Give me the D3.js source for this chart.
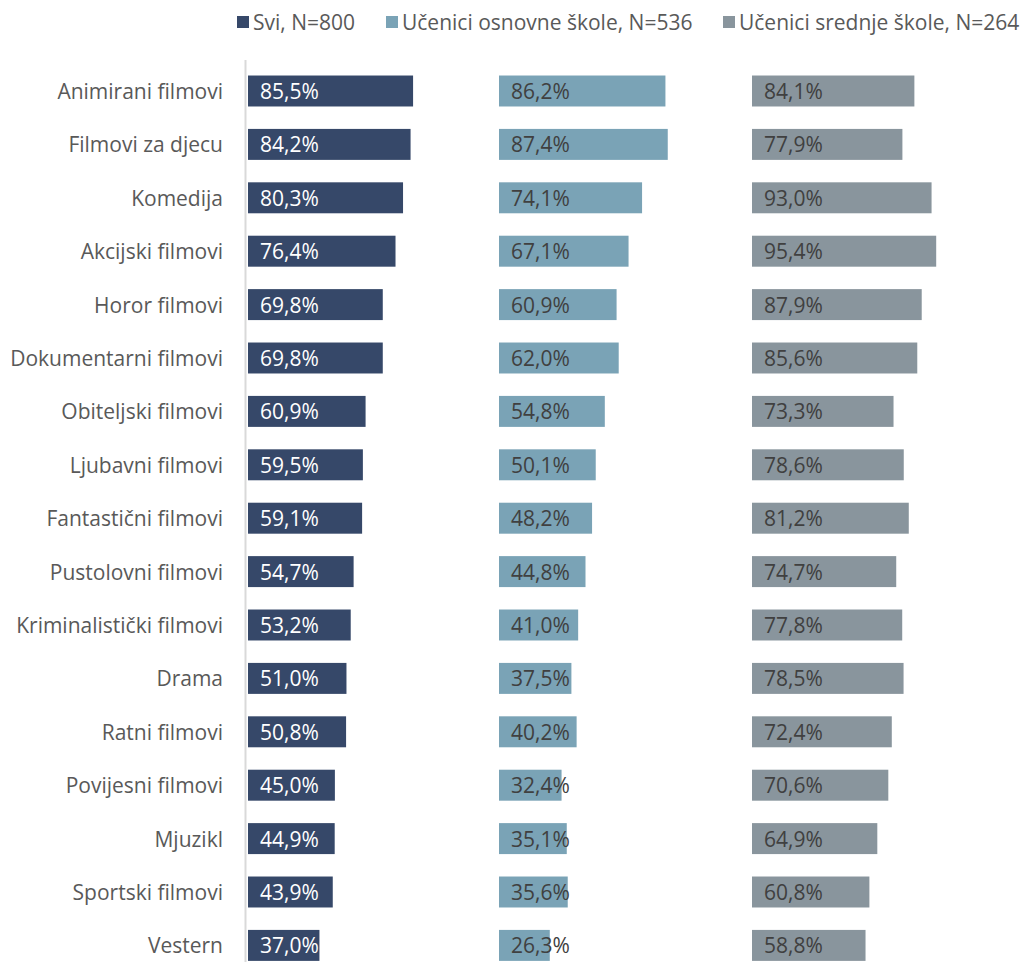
<!DOCTYPE html>
<html><head><meta charset="utf-8">
<script src="https://cdn.jsdelivr.net/npm/d3@7"></script>
<style>body{margin:0;background:#fff;} svg{display:block;}</style>
</head><body>
<script>
const categories = ["Animirani filmovi","Filmovi za djecu","Komedija","Akcijski filmovi","Horor filmovi","Dokumentarni filmovi","Obiteljski filmovi","Ljubavni filmovi","Fantastični filmovi","Pustolovni filmovi","Kriminalistički filmovi","Drama","Ratni filmovi","Povijesni filmovi","Mjuzikl","Sportski filmovi","Vestern"];
const seriesNames = ["Svi, N=800","Učenici osnovne škole, N=536","Učenici srednje škole, N=264"];
const svi = [85.5,84.2,80.3,76.4,69.8,69.8,60.9,59.5,59.1,54.7,53.2,51.0,50.8,45.0,44.9,43.9,37.0];
const osnovna = [86.2,87.4,74.1,67.1,60.9,62.0,54.8,50.1,48.2,44.8,41.0,37.5,40.2,32.4,35.1,35.6,26.3];
const srednja = [84.1,77.9,93.0,95.4,87.9,85.6,73.3,78.6,81.2,74.7,77.8,78.5,72.4,70.6,64.9,60.8,58.8];
const seriesValues = [svi, osnovna, srednja];
const colors = ["#364869","#7aa3b6","#89959d"];
const labelColors = ["#ffffff","#404040","#404040"];

const W = 1027, H = 962;
const svg = d3.select("body").append("svg").attr("width", W).attr("height", H);
const font = "'Open Sans', sans-serif";
const fs = 21;

const y = d3.scaleBand().domain(categories).range([64.3, 972.1]).paddingInner(0.42).paddingOuter(0.21);
const panelStarts = [248, 499, 752];
const panelWidth = 251;

// axis line
svg.append("line").attr("x1", 245.5).attr("x2", 245.5).attr("y1", 60).attr("y2", H)
  .attr("stroke", "#d9d9d9").attr("stroke-width", 2);

// category labels
svg.append("g").selectAll("text").data(categories).join("text")
  .attr("x", 223).attr("y", d => y(d) + y.bandwidth()/2)
  .attr("text-anchor", "end").attr("dominant-baseline", "central")
  .attr("font-family", font).attr("font-size", fs).attr("fill", "#595959")
  .text(d => d);

seriesValues.forEach((vals, s) => {
  const x = d3.scaleLinear().domain([0, 130]).range([panelStarts[s], panelStarts[s] + panelWidth]);
  const g = svg.append("g");
  g.selectAll("rect").data(vals).join("rect")
    .attr("x", x(0)).attr("y", (d, i) => y(categories[i]))
    .attr("width", d => x(d) - x(0)).attr("height", y.bandwidth())
    .attr("fill", colors[s]);
  g.selectAll("text").data(vals).join("text")
    .attr("x", x(0) + 12).attr("y", (d, i) => y(categories[i]) + y.bandwidth()/2)
    .attr("dominant-baseline", "central")
    .attr("font-family", font).attr("font-size", fs).attr("fill", labelColors[s])
    .text(d => d.toFixed(1).replace(".", ",") + "%");
});

// legend
const legendX = [237, 386, 723];
const lg = svg.append("g");
seriesNames.forEach((n, i) => {
  lg.append("rect").attr("x", legendX[i]).attr("y", 16).attr("width", 12).attr("height", 12).attr("fill", colors[i]);
  lg.append("text").attr("x", legendX[i] + 16).attr("y", 22).attr("dominant-baseline", "central")
    .attr("font-family", font).attr("font-size", fs).attr("fill", "#595959").text(n);
});
</script>
</body></html>
